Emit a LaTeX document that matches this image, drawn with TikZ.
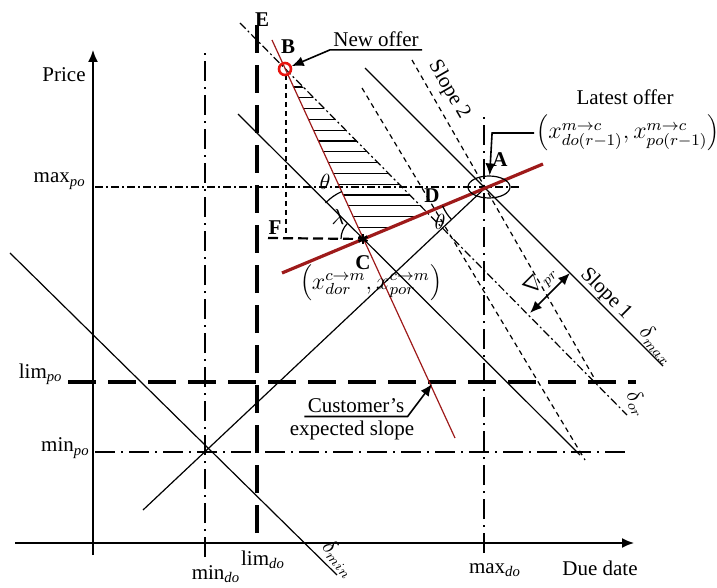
\documentclass[tikz,border=0pt]{standalone}
\usepackage{fontspec}
\setmainfont{Liberation Serif}
\usepackage{tikz}
\usetikzlibrary{arrows.meta,calc,shapes.geometric}
\definecolor{offerred}{HTML}{E8140F}
\definecolor{slopered}{HTML}{9E1A1A}
\tikzset{%
  axisline/.style={line width=0.8pt,-{Latex[length=6pt,width=5pt]}},
  thinline/.style={line width=0.6pt},
  limline/.style={line width=1.6pt,dash pattern=on 14pt off 6pt},
  boundline/.style={line width=0.9pt,dash pattern=on 10pt off 3pt on 1pt off 3pt},
  refline/.style={line width=0.6pt,dash pattern=on 4pt off 1.5pt on 1pt off 1.5pt},
  helpline/.style={line width=0.6pt,dash pattern=on 2.5pt off 2pt},
  fline/.style={line width=1.1pt,dash pattern=on 5pt off 2.5pt},
  pointlabel/.style={font=\fontsize{10.5}{12}\selectfont\bfseries,inner sep=1pt},
  textlabel/.style={inner sep=1.5pt},
  mathlabel/.style={font=\fontsize{11.5}{14}\selectfont,inner sep=1pt},
  calloutarrow/.style={line width=0.8pt,-{Latex[length=6pt,width=5pt]}}
}
\begin{document}
\begin{tikzpicture}[x=0.5pt,y=-0.5pt,font=\fontsize{10.5}{12}\selectfont]
  \useasboundingbox (0,0) rectangle (717,588);
  \coordinate (A) at (485,188);
  \coordinate (B) at (285,69);
  \coordinate (C) at (363,239);
  \coordinate (D) at (427,212);

  \draw[axisline] (15,543) -- (634,543);
  \draw[axisline] (93,555) -- (93,50);

  \draw[boundline] (205,557) -- (205,48);
  \draw[boundline] (484,553) -- (484,113);
  \draw[refline] (95,187) -- (520,187);
  \draw[boundline] (95,452) -- (625,452);
  \draw[limline] (257,533) -- (257,25);
  \draw[limline] (68,382) -- (636,382);

  \begin{scope}
    \clip (B) -- (C) -- (D) -- cycle;
    \foreach \k in {0,...,13}
      \draw[thinline] (280,{87+10.8*\k}) -- (440,{87+10.8*\k});
  \end{scope}

  \draw[thinline] (10,253) -- (337,575);
  \draw[thinline] (143,510) -- (A);
  \draw[thinline] (238,114) -- (580,455);
  \draw[thinline] (365,68) -- (663,366);
  \draw[helpline] (412,60) -- (597,383);
  \draw[helpline] (362,88) -- (585,460);
  \draw[refline] (240,23) -- (627,415);
  \draw[helpline] (286,75) -- (286,238);
  \draw[fline] (268,238) -- (C);
  \draw[slopered,line width=0.6pt] (272,40) -- (455,438);
  \draw[slopered,line width=1.6pt] (282,273) -- (543,164);

  \draw[thinline] ($(A)+(137:46)$) arc[start angle=137,end angle=157,radius=46];
  \draw[thinline] ($(C)+(224:52)$) arc[start angle=224,end angle=246,radius=52];
  \draw[thinline] ($(C)+(180:22)$) arc[start angle=180,end angle=224,radius=22];

  \node[circle,draw=offerred,line width=1.3pt,minimum size=6pt,inner sep=0pt] (Bmark) at (B) {};
  \node[ellipse,draw,thinline,minimum width=21pt,minimum height=11pt,inner sep=0pt] (Aring) at (489,187) {};
  \foreach \a in {90,30,150}
    \draw[line width=1.3pt] ($(C)+(\a:5)$) -- ($(C)+(\a+180:5)$);

  \node[textlabel,anchor=east] (price) at (89,75) {Price};
  \node[textlabel,anchor=east] (maxpo) at (89,181) {max\textsubscript{\textit{po}}};
  \node[textlabel,anchor=east] (limpo) at (66,374) {lim\textsubscript{\textit{po}}};
  \node[textlabel,anchor=east] (minpo) at (93,448) {min\textsubscript{\textit{po}}};
  \node[textlabel] (mindo) at (216,574) {min\textsubscript{\textit{do}}};
  \node[textlabel] (limdo) at (263,560) {lim\textsubscript{\textit{do}}};
  \node[textlabel] (maxdo) at (495,570) {max\textsubscript{\textit{do}}};
  \node[textlabel] (duedate) at (600,568) {Due date};
  \node[textlabel,rotate=-50] (deltamin) at (339,559) {$\delta_{min}$};

  \node[pointlabel] (labE) at (262,20) {E};
  \node[pointlabel] (labB) at (288,47) {B};
  \node[pointlabel] (labA) at (500,160) {A};
  \node[pointlabel] (labD) at (432,196) {D};
  \node[pointlabel] (labF) at (275,228) {F};
  \node[pointlabel] (labC) at (363,263) {C};
  \node[textlabel] (thetaA) at (440,222) {$\theta$};
  \node[textlabel] (thetaC) at (325,182) {$\theta$};
  \node[textlabel] (lambdaC) at (338,217) {$\lambda$};

  \node[textlabel] (newoffer) at (376,39) {New offer};
  \draw[calloutarrow] (newoffer.south east) -- (newoffer.south west) -- (Bmark);
  \node[textlabel] (latest) at (625,97) {Latest offer};
  \node[mathlabel] (latestxy) at (628,133) {$\left(x^{m\to c}_{do(r-1)},x^{m\to c}_{po(r-1)}\right)$};
  \draw[calloutarrow] (latestxy.west) -- ++(-42,0) -- (Aring);
  \node[mathlabel] (cxy) at (371,283) {$\left(x^{c\to m}_{dor},x^{c\to m}_{por}\right)$};

  \node[textlabel] (cust) at (356,406) {Customer’s};
  \node[textlabel] (expected) at (352,430) {expected slope};
  \coordinate (custtip) at (432,384);
  \draw[calloutarrow] (cust.south west) -- (cust.south east) -- (custtip);

  \node[textlabel,rotate=-60] (slopetwo) at (449,90) {Slope 2};
  \node[textlabel,rotate=-45] (slopeone) at (606,294) {Slope 1};
  \node[textlabel,rotate=-50] (deltamax) at (657,345) {$\delta_{max}$};
  \node[textlabel,rotate=-65] (deltaor) at (637,404) {$\delta_{or}$};
  \node[textlabel,rotate=45] (nablapr) at (541,281) {$\nabla_{pr}$};
  \coordinate (prtop) at (570,273);
  \coordinate (prbot) at (530,313);
  \draw[line width=0.8pt,{Latex[length=6pt,width=5pt]}-{Latex[length=6pt,width=5pt]}] (prbot) -- (prtop);
\end{tikzpicture}
\end{document}
